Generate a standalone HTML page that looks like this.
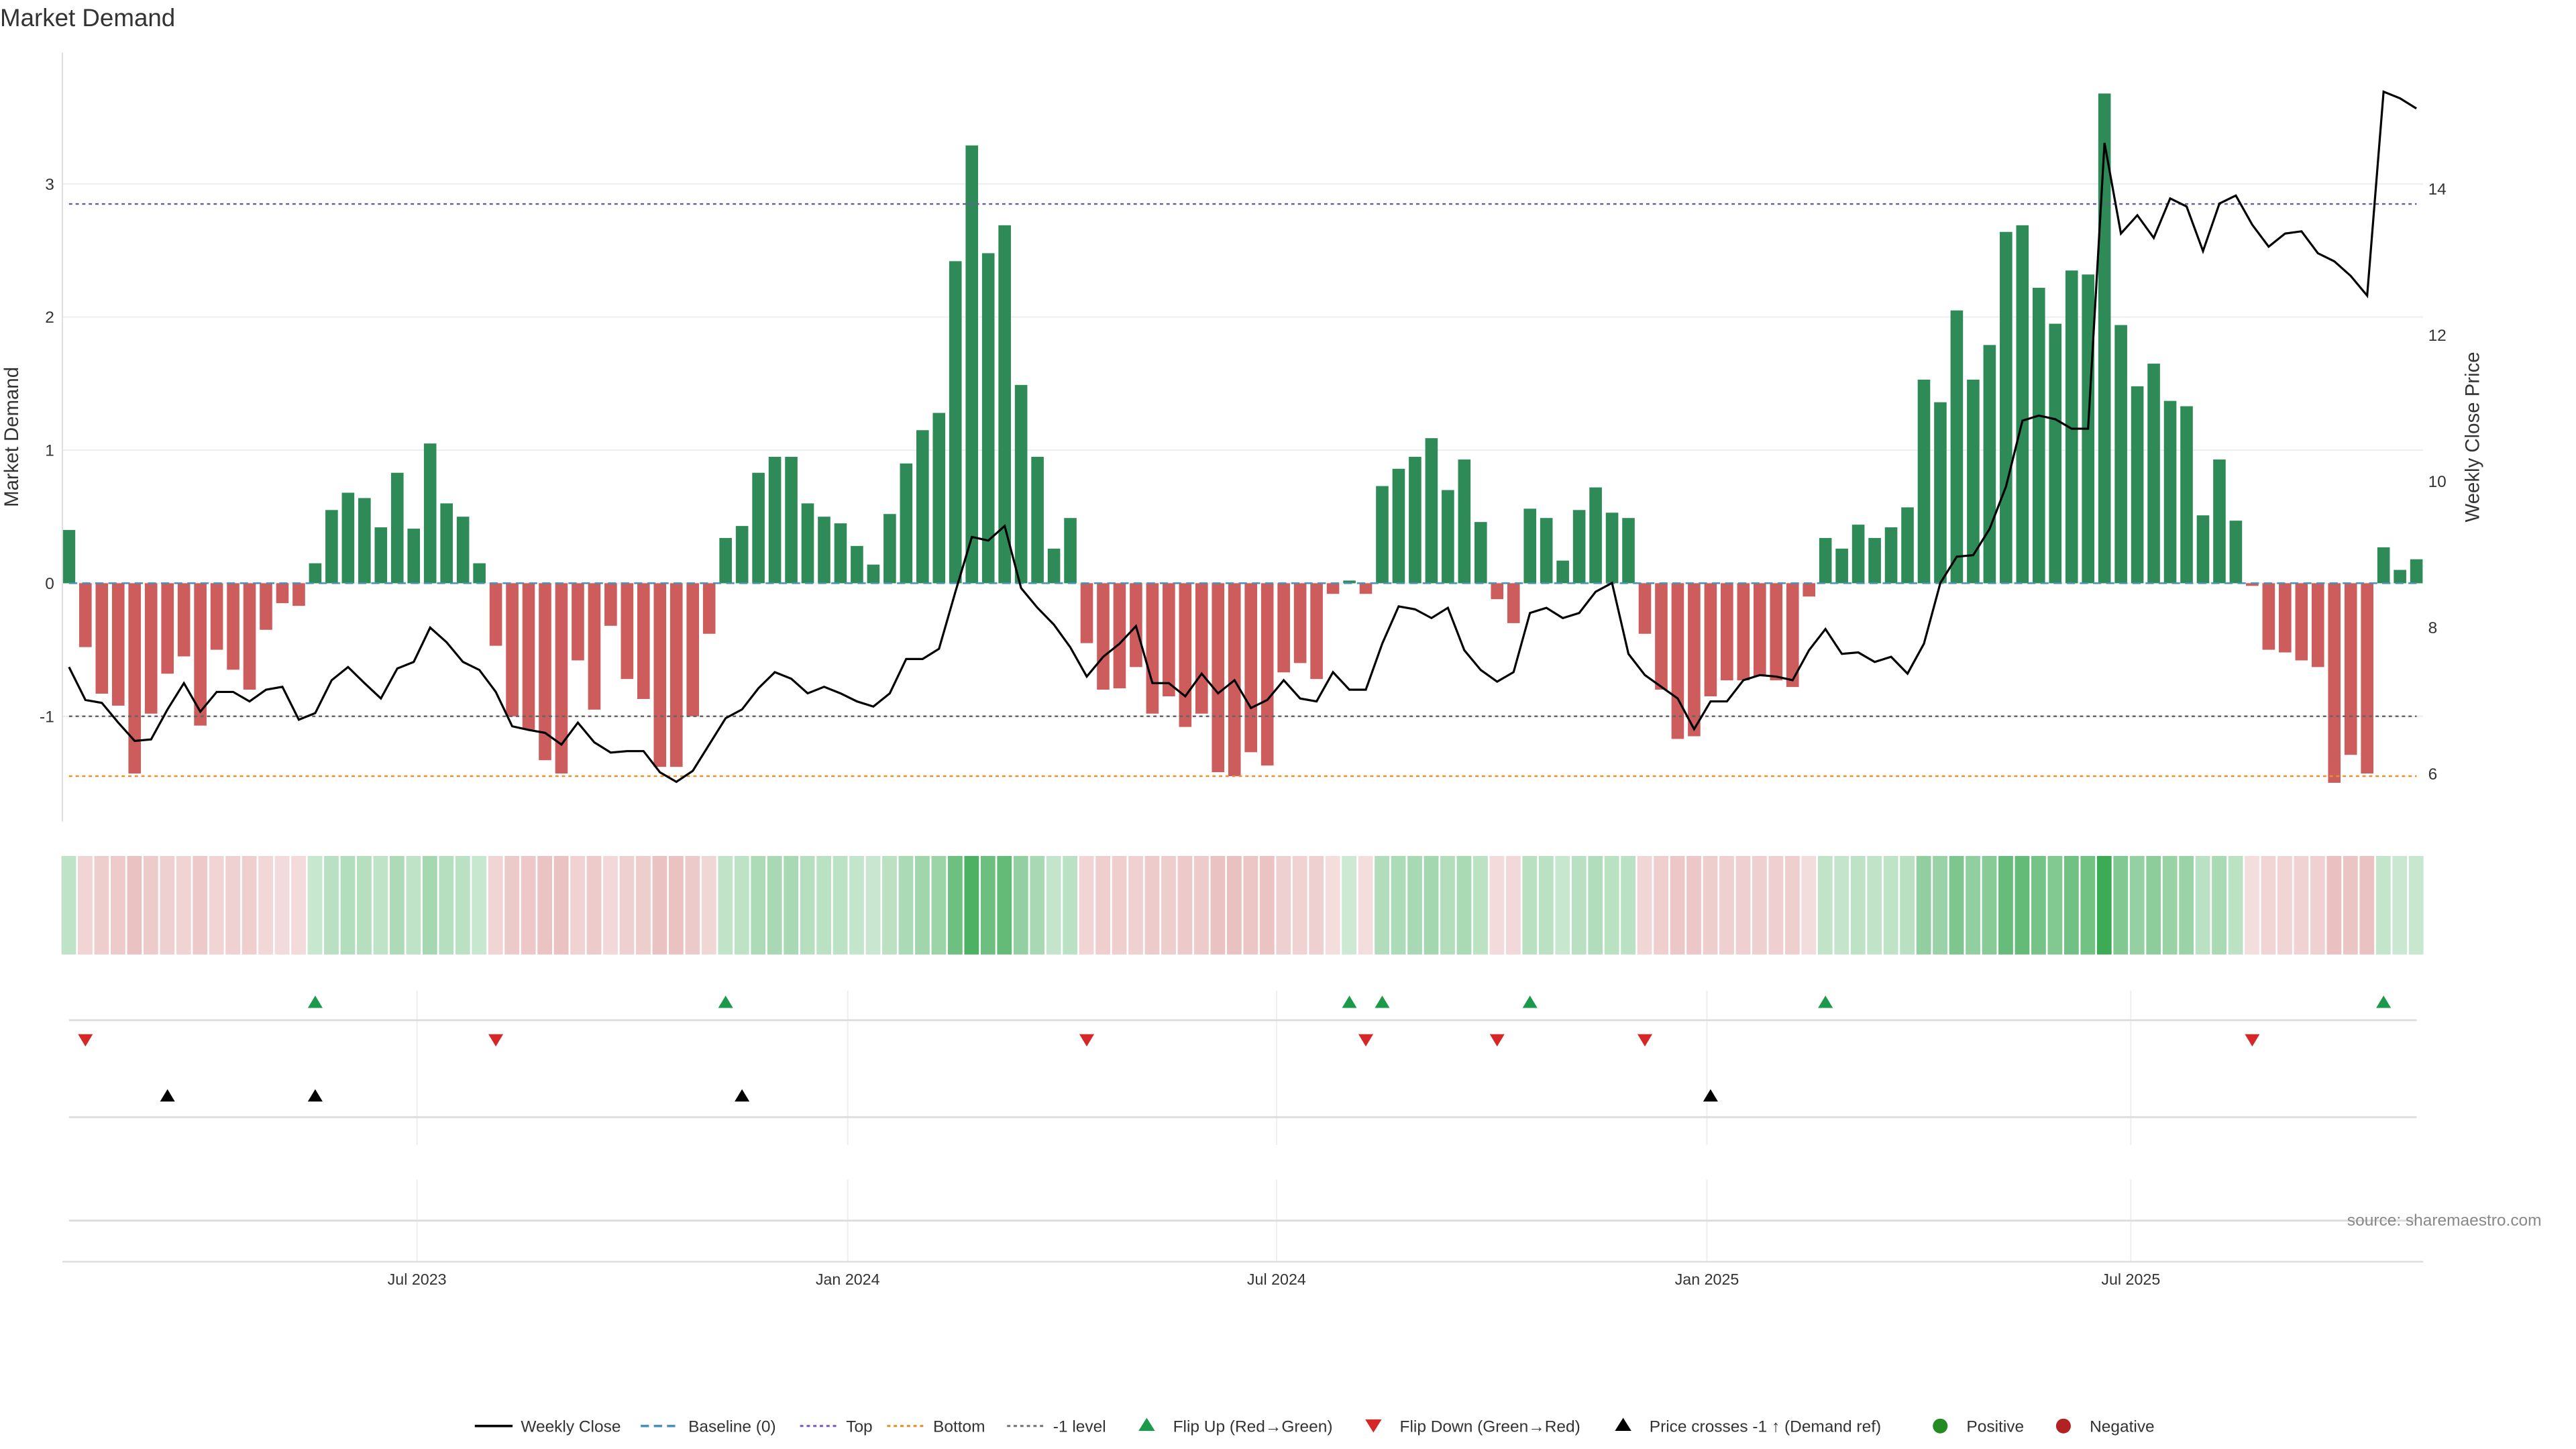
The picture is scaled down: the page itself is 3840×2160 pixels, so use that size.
<!DOCTYPE html>
<html><head><meta charset="utf-8"><style>
html,body{margin:0;padding:0;background:#fff;}
svg{display:block;font-family:"Liberation Sans","DejaVu Sans",sans-serif;}
</style></head><body>
<svg id="chart" width="3840" height="2160" viewBox="0 0 1568 882" xmlns="http://www.w3.org/2000/svg">
<text x="0" y="16" font-size="15" fill="#333">Market Demand</text>
<g id="grid"></g>
<g id="heat"></g>
<g id="bars"></g>
<g id="lines"></g>
<g id="events"></g>
<g id="axes"></g>
<text x="1547" y="746" font-size="10" fill="#888" text-anchor="end">source: sharemaestro.com</text>
<g id="legend"></g>
</svg>
<script>
const demand=[0.4,-0.48,-0.83,-0.92,-1.43,-0.98,-0.68,-0.55,-1.07,-0.5,-0.65,-0.8,-0.35,-0.15,-0.17,0.15,0.55,0.68,0.64,0.42,0.83,0.41,1.05,0.6,0.5,0.15,-0.47,-1.0,-1.1,-1.33,-1.43,-0.58,-0.95,-0.32,-0.72,-0.87,-1.38,-1.38,-1.0,-0.38,0.34,0.43,0.83,0.95,0.95,0.6,0.5,0.45,0.28,0.14,0.52,0.9,1.15,1.28,2.42,3.29,2.48,2.69,1.49,0.95,0.26,0.49,-0.45,-0.8,-0.79,-0.63,-0.98,-0.85,-1.08,-0.98,-1.42,-1.45,-1.27,-1.37,-0.67,-0.6,-0.72,-0.08,0.02,-0.08,0.73,0.86,0.95,1.09,0.7,0.93,0.46,-0.12,-0.3,0.56,0.49,0.17,0.55,0.72,0.53,0.49,-0.38,-0.8,-1.17,-1.15,-0.85,-0.73,-0.73,-0.7,-0.73,-0.78,-0.1,0.34,0.26,0.44,0.34,0.42,0.57,1.53,1.36,2.05,1.53,1.79,2.64,2.69,2.22,1.95,2.35,2.32,3.68,1.94,1.48,1.65,1.37,1.33,0.51,0.93,0.47,-0.02,-0.5,-0.52,-0.58,-0.63,-1.5,-1.29,-1.43,0.27,0.1,0.18];
const price=[7.46,7.01,6.97,6.7,6.45,6.47,6.88,7.24,6.85,7.12,7.12,6.99,7.15,7.19,6.74,6.83,7.28,7.46,7.24,7.03,7.44,7.53,8.0,7.8,7.53,7.42,7.12,6.65,6.6,6.56,6.4,6.7,6.43,6.29,6.31,6.31,6.02,5.89,6.04,6.4,6.76,6.88,7.17,7.39,7.3,7.1,7.19,7.1,6.99,6.92,7.1,7.57,7.57,7.71,8.49,9.24,9.19,9.39,8.54,8.27,8.04,7.73,7.33,7.6,7.78,8.02,7.24,7.24,7.06,7.37,7.1,7.28,6.9,7.01,7.28,7.03,6.99,7.39,7.15,7.15,7.78,8.29,8.25,8.13,8.27,7.69,7.42,7.26,7.39,8.2,8.27,8.13,8.2,8.49,8.61,7.64,7.35,7.19,7.03,6.61,6.99,6.99,7.28,7.35,7.33,7.28,7.69,7.98,7.64,7.66,7.53,7.6,7.37,7.78,8.61,8.97,8.99,9.35,9.93,10.83,10.9,10.85,10.72,10.72,14.63,13.39,13.64,13.33,13.87,13.76,13.15,13.8,13.91,13.51,13.21,13.39,13.42,13.12,13.01,12.81,12.54,15.33,15.24,15.1];
const flipUp=[15,40,78,80,89,107,141];
const flipDown=[1,26,62,79,87,96,133];
const priceCross=[6,15,41,100];
const leftTicks=[-1,0,1,2,3];
const rightTicks=[6,8,10,12,14];
const dateLabels=["Jul 2023","Jan 2024","Jul 2024","Jan 2025","Jul 2025"];
const dateWeeks=[21.2,47.44,73.56,99.78,125.6];
const levelTop=2.85, levelMinus1=-1, levelBottom=-1.45;

const NS="http://www.w3.org/2000/svg";
function mk(tag,attrs,parent){const e=document.createElementNS(NS,tag);for(const k in attrs)e.setAttribute(k,attrs[k]);parent.appendChild(e);return e;}
const X0=42,STEP=9.992;
function xw(i){return X0+i*STEP;}
function yL(v){return 355-v*81;}
function yR(p){return 382-(p-8)*44.5;}
const g=id=>document.getElementById(id);

const grid=g('grid'),axes=g('axes');
leftTicks.forEach(v=>{
  const l=mk('line',{x1:38,x2:1475,y1:yL(v),y2:yL(v),stroke:'#eee','stroke-width':0.8},grid);
  
  
  const t=mk('text',{x:33,y:yL(v)+3.5,'font-size':10,fill:'#333','text-anchor':'end'},axes);
  t.textContent=v;
  
  
});
rightTicks.forEach(p=>{
  const t=mk('text',{x:1478,y:yR(p)+3.5,'font-size':10,fill:'#333'},axes);
  t.textContent=p;
  
  
});
mk('line',{x1:38,x2:38,y1:32,y2:500,stroke:'#ddd','stroke-width':0.8},axes);
let t1=mk('text',{x:11,y:266,'font-size':12,fill:'#333','text-anchor':'middle',transform:'rotate(-90 11 266)'},axes);
t1.textContent='Market Demand';


let t2=mk('text',{x:1509,y:266,'font-size':12,fill:'#333','text-anchor':'middle',transform:'rotate(-90 1509 266)'},axes);
t2.textContent='Weekly Close Price';


[[621],[680],[743]].forEach(a=>{mk('line',{x1:42,x2:1471,y1:a[0],y2:a[0],stroke:'#ddd','stroke-width':1.2},axes);});
mk('line',{x1:38,x2:1475,y1:768,y2:768,stroke:'#ddd','stroke-width':1},axes);
dateWeeks.forEach((w,i)=>{
  const x=xw(w);
  mk('line',{x1:x,x2:x,y1:603,y2:697,stroke:'#eee','stroke-width':0.8},grid);
  mk('line',{x1:x,x2:x,y1:718,y2:768,stroke:'#eee','stroke-width':0.8},grid);
  const t=mk('text',{x:x,y:782,'font-size':9.5,fill:'#333','text-anchor':'middle'},axes);
  t.textContent=dateLabels[i];
  
  
});

const heat=g('heat');
demand.forEach((v,i)=>{
  const m=Math.min(Math.abs(v)/3.7,1);
  const fill=v>=0?`rgba(60,170,85,${0.25+0.75*m})`:`rgba(200,90,90,${0.2+0.45*m})`;
  const r=mk('rect',{x:xw(i)-4.6,y:521,width:8.9,height:60,fill:fill},heat);
  
  
});

const bars=g('bars');
demand.forEach((v,i)=>{
  const y0=yL(0),y1=yL(v);
  const r=mk('rect',{x:xw(i)-3.8,y:Math.min(y0,y1),width:7.6,height:Math.max(Math.abs(y1-y0),0.5),fill:v>=0?'#2e8b57':'#cd5c5c'},bars);
  
  
});

const lines=g('lines');
mk('line',{x1:42,x2:1471,y1:yL(0),y2:yL(0),stroke:'#4a90b8','stroke-width':1,'stroke-dasharray':'5 3'},lines);
mk('line',{x1:42,x2:1471,y1:yL(levelTop),y2:yL(levelTop),stroke:'#6a5a9a','stroke-width':1,'stroke-dasharray':'2 2'},lines);
mk('line',{x1:42,x2:1471,y1:yL(levelMinus1),y2:yL(levelMinus1),stroke:'#666','stroke-width':1,'stroke-dasharray':'2 2'},lines);
mk('line',{x1:42,x2:1471,y1:yL(levelBottom),y2:yL(levelBottom),stroke:'#e8902a','stroke-width':1,'stroke-dasharray':'2 2'},lines);
const pl=mk('polyline',{points:price.map((p,i)=>xw(i)+','+yR(p)).join(' '),fill:'none',stroke:'#000','stroke-width':1.3},lines);



const ev=g('events');
function tri(x,y,up,color,name){
  const pts=up?`${x-4.5},${y+3.5} ${x+4.5},${y+3.5} ${x},${y-4}`:`${x-4.5},${y-3.5} ${x+4.5},${y-3.5} ${x},${y+4}`;
  const p=mk('polygon',{points:pts,fill:color},ev);
  
  
}
flipUp.forEach(i=>tri(xw(i),610,true,'#1a9a4a','flip-up-marker'));
flipDown.forEach(i=>tri(xw(i),633,false,'#d62728','flip-down-marker'));
priceCross.forEach(i=>tri(xw(i),667,true,'#000','price-cross-marker'));

const lg=g('legend');const ly=868;
function ltext(x,s){const t=mk('text',{x:x,y:ly+3.5,'font-size':10,fill:'#333'},lg);t.textContent=s;}
mk('line',{x1:289,x2:312,y1:ly,y2:ly,stroke:'#000','stroke-width':1.5},lg);ltext(317,'Weekly Close');
mk('line',{x1:390,x2:412,y1:ly,y2:ly,stroke:'#4a90b8','stroke-width':1.5,'stroke-dasharray':'5 3'},lg);ltext(419,'Baseline (0)');
mk('line',{x1:487,x2:509,y1:ly,y2:ly,stroke:'#7a5fc0','stroke-width':1.3,'stroke-dasharray':'2 2'},lg);ltext(515,'Top');
mk('line',{x1:540,x2:562,y1:ly,y2:ly,stroke:'#e8902a','stroke-width':1.3,'stroke-dasharray':'2 2'},lg);ltext(568,'Bottom');
mk('line',{x1:613,x2:635,y1:ly,y2:ly,stroke:'#777','stroke-width':1.3,'stroke-dasharray':'2 2'},lg);ltext(641,'-1 level');
mk('polygon',{points:`693,${ly+3} 703,${ly+3} 698,${ly-5}`,fill:'#1a9a4a'},lg);ltext(714,'Flip Up (Red→Green)');
mk('polygon',{points:`831,${ly-4} 841,${ly-4} 836,${ly+4}`,fill:'#d62728'},lg);ltext(852,'Flip Down (Green→Red)');
mk('polygon',{points:`983,${ly+3} 993,${ly+3} 988,${ly-5}`,fill:'#000'},lg);ltext(1004,'Price crosses -1 ↑ (Demand ref)');
mk('circle',{cx:1181,cy:ly,r:4.5,fill:'#228b22'},lg);ltext(1197,'Positive');
mk('circle',{cx:1256,cy:ly,r:4.5,fill:'#b22222'},lg);ltext(1272,'Negative');
</script>
</body></html>
